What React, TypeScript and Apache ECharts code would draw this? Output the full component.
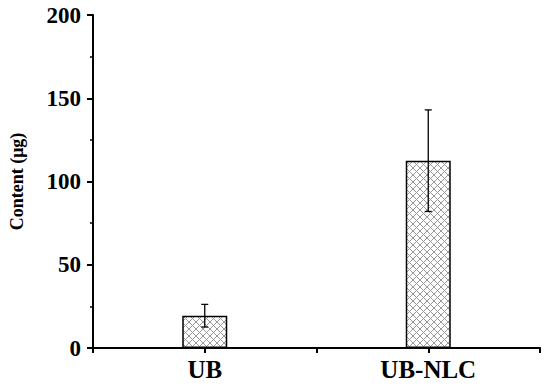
import React, { useEffect, useRef } from "react";
import * as echarts from "echarts";

const categories = ["UB", "UB-NLC"];
const means = [19.4, 112.5];
const errors = [6.8, 30.5];
const yTicks = { min: 0, max: 200, interval: 50 };

function makeHatch(): string {
  const s = 7;
  const c = document.createElement("canvas");
  c.width = s;
  c.height = s;
  const g = c.getContext("2d")!;
  g.fillStyle = "#ffffff";
  g.fillRect(0, 0, s, s);
  g.strokeStyle = "#999999";
  g.lineWidth = 1;
  g.beginPath();
  g.moveTo(0, 0);
  g.lineTo(s, s);
  g.moveTo(s, 0);
  g.lineTo(0, s);
  g.stroke();
  return c.toDataURL();
}

export default function App() {
  const ref = useRef<HTMLDivElement>(null);
  useEffect(() => {
    if (!ref.current) return;
    const chart = echarts.init(ref.current, undefined, { renderer: "svg" });
    const slots: string[] = [""];
    categories.forEach((c) => {
      slots.push(c);
      slots.push("");
    });
    const barData = slots.map((s) => {
      const i = categories.indexOf(s);
      return i >= 0 && s !== "" ? means[i] : null;
    });
    const errData = categories.map((c, i) => [
      slots.indexOf(c),
      means[i] - errors[i],
      means[i] + errors[i],
    ]);
    const hatch = makeHatch();
    const font = "'Liberation Serif', 'Times New Roman', serif";
    chart.setOption({
      animation: false,
      grid: { left: 89, right: 10, top: 15, bottom: 44, containLabel: false },
      xAxis: {
        type: "category",
        data: slots,
        boundaryGap: false,
        axisLine: { lineStyle: { color: "#000", width: 2 } },
        axisTick: { show: true, length: 5, inside: false, lineStyle: { color: "#000", width: 2 } },
        axisLabel: {
          color: "#000",
          fontFamily: font,
          fontWeight: "bold",
          fontSize: 25,
          margin: 9,
          interval: 0,
        },
        splitLine: { show: false },
      },
      yAxis: {
        type: "value",
        min: yTicks.min,
        max: yTicks.max,
        interval: yTicks.interval,
        name: "Content (μg)",
        nameLocation: "middle",
        nameGap: 67,
        nameTextStyle: { color: "#000", fontFamily: font, fontWeight: "bold", fontSize: 18 },
        axisLine: { show: true, lineStyle: { color: "#000", width: 2 } },
        axisTick: { show: true, length: 6, lineStyle: { color: "#000", width: 2 } },
        minorTick: { show: true, splitNumber: 2, length: 3, lineStyle: { color: "#000", width: 1.5 } },
        axisLabel: {
          color: "#000",
          fontFamily: font,
          fontWeight: "bold",
          fontSize: 23,
          margin: 12,
        },
        splitLine: { show: false },
      },
      series: [
        {
          type: "bar",
          data: barData,
          barWidth: 45,
          itemStyle: {
            color: { image: hatch, repeat: "repeat", imageWidth: 7, imageHeight: 7 } as any,
            borderColor: "#000",
            borderWidth: 1.5,
          },
          z: 2,
        },
        {
          type: "custom",
          data: errData,
          z: 5,
          renderItem: (params: any, api: any) => {
            const x = api.value(0);
            const lo = api.coord([x, api.value(1)]);
            const hi = api.coord([x, api.value(2)]);
            const cap = 3.5;
            const st = { stroke: "#000", lineWidth: 1.3 };
            return {
              type: "group",
              children: [
                { type: "line", shape: { x1: lo[0], y1: lo[1], x2: hi[0], y2: hi[1] }, style: st },
                { type: "line", shape: { x1: lo[0] - cap, y1: lo[1], x2: lo[0] + cap, y2: lo[1] }, style: st },
                { type: "line", shape: { x1: hi[0] - cap, y1: hi[1], x2: hi[0] + cap, y2: hi[1] }, style: st },
              ],
            };
          },
        },
      ],
    });
    return () => chart.dispose();
  }, []);
  return <div ref={ref} style={{ width: 550, height: 392, position: "absolute", left: 0, top: 0 }} />;
}
